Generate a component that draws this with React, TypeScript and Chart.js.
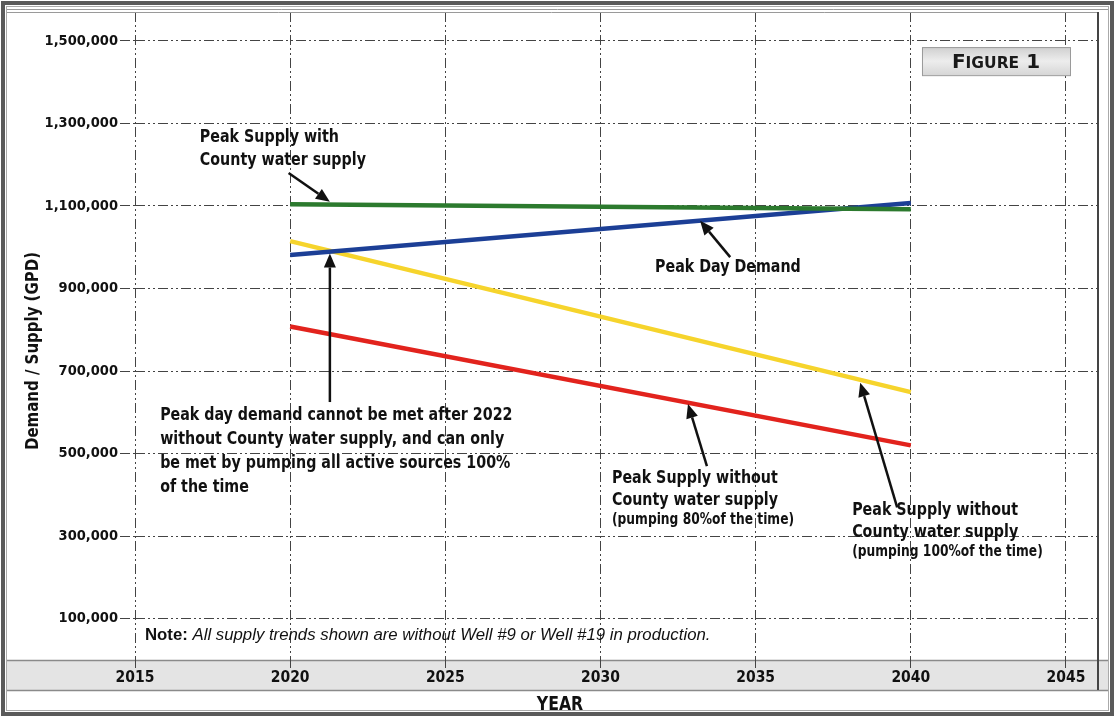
import React, { useEffect, useRef } from 'react';
import { Chart, registerables } from 'chart.js';

Chart.register(...registerables);

// ---- data ----
const years = [2020, 2040];
const peakSupplyWithCounty = [1104000, 1092000];
const peakDayDemand = [981000, 1107000];
const supplyNoCounty100 = [1015000, 649000];
const supplyNoCounty80 = [808000, 520000];
const yTickValues = [100000, 300000, 500000, 700000, 900000, 1100000, 1300000, 1500000];
const xTickValues = [2015, 2020, 2025, 2030, 2035, 2040, 2045];

const NARROW = '"DejaVu Sans Condensed", "Liberation Sans Narrow", "Arial Narrow", sans-serif';
const SANS = '"Liberation Sans", Arial, Helvetica, sans-serif';

type Note = { x: number; y: number; lines: { text: string; size: number }[]; lh: number };
const notes: Note[] = [
  { x: 2017.09, y: 1267000, lh: 23, lines: [{ text: 'Peak Supply with', size: 18 }, { text: 'County water supply', size: 18 }] },
  { x: 2031.76, y: 952000, lh: 23, lines: [{ text: 'Peak Day Demand', size: 18 }] },
  {
    x: 2015.81, y: 593600, lh: 24, lines: [
      { text: 'Peak day demand cannot be met after 2022', size: 18 },
      { text: 'without County water supply, and can only', size: 18 },
      { text: 'be met by pumping all active sources 100%', size: 18 },
      { text: 'of the time', size: 18 },
    ],
  },
  {
    x: 2030.37, y: 441000, lh: 22, lines: [
      { text: 'Peak Supply without', size: 18 },
      { text: 'County water supply', size: 18 },
      { text: '(pumping 80%of the time)', size: 15.5 },
    ],
  },
  {
    x: 2038.11, y: 363400, lh: 22, lines: [
      { text: 'Peak Supply without', size: 18 },
      { text: 'County water supply', size: 18 },
      { text: '(pumping 100%of the time)', size: 15.5 },
    ],
  },
];

const arrows = [
  { from: [2019.95, 1180000], to: [2021.28, 1110000] },
  { from: [2034.18, 976000], to: [2033.21, 1064000] },
  { from: [2021.28, 625000], to: [2021.28, 985000] },
  { from: [2033.43, 470000], to: [2032.82, 620000] },
  { from: [2039.56, 370000], to: [2038.37, 672000] },
];

function drawCondensed(ctx: CanvasRenderingContext2D, text: string, x: number, y: number, sx: number) {
  ctx.save();
  ctx.translate(x, y);
  ctx.scale(sx, 1);
  ctx.fillText(text, 0, 0);
  ctx.restore();
}

const decorPlugin = {
  id: 'decor',
  beforeDraw(chart: any) {
    const { ctx, width, chartArea } = chart;
    ctx.save();
    ctx.fillStyle = '#ffffff';
    ctx.fillRect(0, 0, width, chart.height);
    const bTop = chartArea.bottom;
    ctx.fillStyle = '#e4e4e4';
    ctx.fillRect(6, bTop, width - 12, 30);
    ctx.strokeStyle = '#8a8a8a';
    ctx.lineWidth = 1.5;
    ctx.beginPath();
    ctx.moveTo(6, bTop + 0.5);
    ctx.lineTo(width - 6, bTop + 0.5);
    ctx.moveTo(6, bTop + 30.5);
    ctx.lineTo(width - 6, bTop + 30.5);
    ctx.stroke();
    ctx.restore();
  },
  afterDraw(chart: any) {
    const { ctx, width, height, chartArea, scales } = chart;
    const xs = scales.x;
    const ys = scales.y;
    ctx.save();
    ctx.strokeStyle = '#9a9a9a';
    ctx.lineWidth = 1;
    ctx.beginPath();
    ctx.moveTo(6, chartArea.top - 2.5);
    ctx.lineTo(width - 6, chartArea.top - 2.5);
    ctx.moveTo(6, chartArea.top + 0.5);
    ctx.lineTo(chartArea.right, chartArea.top + 0.5);
    ctx.stroke();
    ctx.strokeStyle = '#444';
    ctx.lineWidth = 2;
    ctx.beginPath();
    ctx.moveTo(chartArea.right + 1, chartArea.top);
    ctx.lineTo(chartArea.right + 1, chartArea.bottom + 30);
    ctx.stroke();

    ctx.strokeStyle = '#5a5a5a';
    ctx.lineWidth = 4;
    ctx.strokeRect(3, 3, width - 6, height - 6);
    ctx.strokeStyle = '#aaaaaa';
    ctx.lineWidth = 1;
    ctx.strokeRect(6.5, 6.5, width - 13, height - 13);

    ctx.fillStyle = '#111';
    ctx.textBaseline = 'middle';
    ctx.textAlign = 'left';
    notes.forEach((n) => {
      const px = xs.getPixelForValue(n.x);
      const py = ys.getPixelForValue(n.y);
      n.lines.forEach((l, i) => {
        ctx.font = `bold ${l.size}px ${NARROW}`;
        const off = l.size < 17 ? -2 : 0;
        drawCondensed(ctx, l.text, px, py + i * n.lh + off, 0.88);
      });
    });

    ctx.strokeStyle = '#111';
    ctx.fillStyle = '#111';
    arrows.forEach((a) => {
      const x1 = xs.getPixelForValue(a.from[0]);
      const y1 = ys.getPixelForValue(a.from[1]);
      const x2 = xs.getPixelForValue(a.to[0]);
      const y2 = ys.getPixelForValue(a.to[1]);
      const ang = Math.atan2(y2 - y1, x2 - x1);
      const hl = 14;
      const hw = 6;
      const bx = x2 - hl * Math.cos(ang);
      const by = y2 - hl * Math.sin(ang);
      ctx.lineWidth = 2.5;
      ctx.beginPath();
      ctx.moveTo(x1, y1);
      ctx.lineTo(bx, by);
      ctx.stroke();
      ctx.beginPath();
      ctx.moveTo(x2, y2);
      ctx.lineTo(bx + hw * Math.sin(ang), by - hw * Math.cos(ang));
      ctx.lineTo(bx - hw * Math.sin(ang), by + hw * Math.cos(ang));
      ctx.closePath();
      ctx.fill();
    });

    const nx = xs.getPixelForValue(2015.32);
    const ny = ys.getPixelForValue(60600);
    ctx.font = `bold 16.8px ${SANS}`;
    ctx.fillText('Note:', nx, ny);
    const w = ctx.measureText('Note: ').width;
    ctx.font = `italic 16.8px ${SANS}`;
    ctx.fillText('All supply trends shown are without Well #9 or Well #19 in production.', nx + w, ny);

    const fx1 = xs.getPixelForValue(2040.36);
    const fx2 = xs.getPixelForValue(2045.13);
    const fy1 = ys.getPixelForValue(1485000);
    const fy2 = ys.getPixelForValue(1417000);
    const g = ctx.createLinearGradient(0, fy1, 0, fy2);
    g.addColorStop(0, '#cfcfcf');
    g.addColorStop(0.5, '#ededed');
    g.addColorStop(1, '#d6d6d6');
    ctx.fillStyle = g;
    ctx.fillRect(fx1, fy1, fx2 - fx1, fy2 - fy1);
    ctx.strokeStyle = '#9a9a9a';
    ctx.lineWidth = 1;
    ctx.strokeRect(fx1 + 0.5, fy1 + 0.5, fx2 - fx1, fy2 - fy1);
    const parts = [
      { t: 'F', s: 20 },
      { t: 'IGURE', s: 15.5 },
      { t: ' 1', s: 20 },
    ];
    let total = 0;
    parts.forEach((p) => {
      ctx.font = `bold ${p.s}px "DejaVu Sans", Verdana, sans-serif`;
      total += ctx.measureText(p.t).width;
    });
    let cx = (fx1 + fx2) / 2 - total / 2;
    const base = (fy1 + fy2) / 2 + 7;
    ctx.fillStyle = '#1a1a1a';
    ctx.textBaseline = 'alphabetic';
    parts.forEach((p) => {
      ctx.font = `bold ${p.s}px "DejaVu Sans", Verdana, sans-serif`;
      ctx.fillText(p.t, cx, base);
      cx += ctx.measureText(p.t).width;
    });

    ctx.fillStyle = '#111';
    ctx.textAlign = 'center';
    ctx.textBaseline = 'middle';
    ctx.font = `bold 19px ${NARROW}`;
    drawCondensed(ctx, 'YEAR', 560, height - 12, 0.92);
    ctx.save();
    ctx.translate(33, 351);
    ctx.rotate(-Math.PI / 2);
    ctx.font = `bold 18.5px ${NARROW}`;
    drawCondensed(ctx, 'Demand / Supply (GPD)', 0, 0, 0.9);
    ctx.restore();

    ctx.restore();
  },
};

export default function App() {
  const canvasRef = useRef<HTMLCanvasElement | null>(null);

  useEffect(() => {
    document.body.style.margin = '0';
    const canvas = canvasRef.current;
    if (!canvas) return;
    const mk = (vals: number[]) => years.map((yr, i) => ({ x: yr, y: vals[i] }));
    const dash = [10, 3, 2, 3, 2, 3];
    const chart = new Chart(canvas, {
      type: 'line',
      data: {
        datasets: [
          { label: 'Peak Supply with County water supply', data: mk(peakSupplyWithCounty), borderColor: '#2c7a2e', borderWidth: 4.5, pointRadius: 0 },
          { label: 'Peak Day Demand', data: mk(peakDayDemand), borderColor: '#1c3f96', borderWidth: 4.5, pointRadius: 0 },
          { label: 'Peak Supply without County (100%)', data: mk(supplyNoCounty100), borderColor: '#f6d42c', borderWidth: 4.5, pointRadius: 0 },
          { label: 'Peak Supply without County (80%)', data: mk(supplyNoCounty80), borderColor: '#e2231d', borderWidth: 4.5, pointRadius: 0 },
        ],
      },
      options: {
        animation: false,
        responsive: true,
        maintainAspectRatio: false,
        layout: { padding: { left: 0, right: 18, top: 12, bottom: 0 } },
        plugins: { legend: { display: false }, tooltip: { enabled: false } },
        scales: {
          x: {
            type: 'linear',
            min: 2015,
            max: 2046,
            afterBuildTicks: (s: any) => {
              s.ticks = xTickValues.map((v) => ({ value: v }));
            },
            afterFit: (s: any) => {
              s.height = 57;
            },
            ticks: {
              callback: (v: any) => String(v),
              color: '#111',
              font: { family: NARROW, size: 15.5, weight: 'bold' },
              padding: 1,
              maxRotation: 0,
            },
            grid: { color: '#444', lineWidth: 1, tickLength: 8, tickColor: '#444', tickBorderDash: dash },
            border: { display: false, dash },
          },
          y: {
            type: 'linear',
            min: 0,
            max: 1570000,
            afterBuildTicks: (s: any) => {
              s.ticks = yTickValues.map((v) => ({ value: v }));
            },
            afterFit: (s: any) => {
              s.width = 135;
            },
            ticks: {
              callback: (v: any) => Number(v).toLocaleString('en-US'),
              color: '#111',
              font: { family: NARROW, size: 14.5, weight: 'bold' },
              padding: 2,
            },
            grid: { color: '#444', lineWidth: 1, tickLength: 15, tickColor: '#444', tickBorderDash: dash },
            border: { display: false, dash },
          },
        },
      },
      plugins: [decorPlugin],
    });
    return () => chart.destroy();
  }, []);

  return (
    <div style={{ width: 1115, height: 717, position: 'relative' }}>
      <canvas ref={canvasRef} />
    </div>
  );
}
